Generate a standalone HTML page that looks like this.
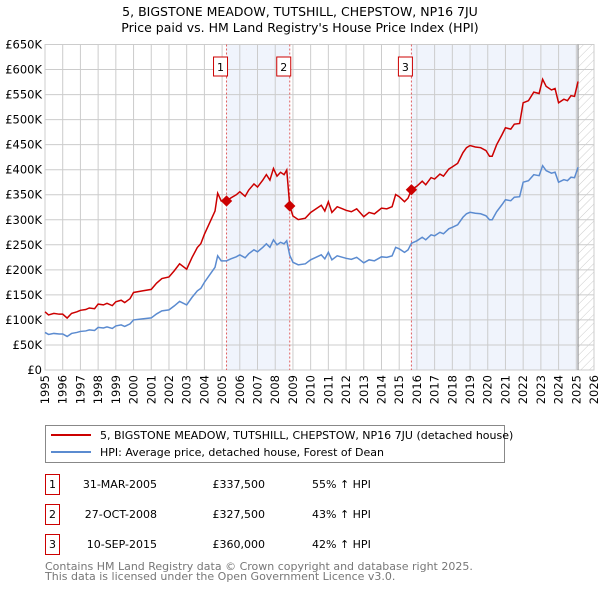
<!DOCTYPE html>
<html><head><meta charset="utf-8"><style>
body{margin:0;background:#fff;font-family:"DejaVu Sans","Liberation Sans",sans-serif;}
svg text{font-family:"DejaVu Sans","Liberation Sans",sans-serif;}
</style></head><body>
<svg id="c" width="600" height="590" xmlns="http://www.w3.org/2000/svg">
<defs><pattern id="hatch" patternUnits="userSpaceOnUse" width="6" height="6" patternTransform="rotate(45)"><line x1="0" y1="0" x2="0" y2="6" stroke="#ccc" stroke-width="1"/></pattern></defs>
<text x="300" y="16" text-anchor="middle" font-size="12.5">5, BIGSTONE MEADOW, TUTSHILL, CHEPSTOW, NP16 7JU</text>
<text x="300" y="32" text-anchor="middle" font-size="12.5">Price paid vs. HM Land Registry's House Price Index (HPI)</text>
<g id="plot"></g>
<rect x="45.5" y="425.5" width="459" height="37" fill="#fff" stroke="#888"/>
<line x1="51" y1="435" x2="91" y2="435" stroke="#cc0000" stroke-width="2"/>
<text x="100" y="439" font-size="11">5, BIGSTONE MEADOW, TUTSHILL, CHEPSTOW, NP16 7JU (detached house)</text>
<line x1="51" y1="452" x2="91" y2="452" stroke="#5b8bd0" stroke-width="2"/>
<text x="100" y="456" font-size="11">HPI: Average price, detached house, Forest of Dean</text>
<g id="table" font-size="11"></g>
<text x="45" y="570" font-size="11" fill="#777">Contains HM Land Registry data © Crown copyright and database right 2025.</text>
<text x="45" y="580" font-size="11" fill="#777">This data is licensed under the Open Government Licence v3.0.</text>
</svg>
<script>
const hpiYears=[
1995,1995.2,1995.5,1995.8,1996,1996.25,1996.5,1996.8,1997,1997.3,
1997.5,1997.8,1998,1998.3,1998.5,1998.8,1999,1999.3,1999.5,1999.8,
2000,2000.5,2001,2001.3,2001.6,2002,2002.3,2002.6,2003,2003.3,
2003.6,2003.8,2004,2004.3,2004.6,2004.75,2004.95,2005.25,2005.5,2005.8,
2006,2006.3,2006.5,2006.8,2007,2007.3,2007.5,2007.7,2007.9,2008.1,
2008.3,2008.5,2008.65,2008.82,2009,2009.3,2009.7,2010,2010.3,2010.6,
2010.8,2011,2011.2,2011.5,2011.8,2012,2012.3,2012.6,2013,2013.3,
2013.6,2014,2014.3,2014.6,2014.8,2015,2015.3,2015.5,2015.69,2016,
2016.3,2016.5,2016.8,2017,2017.3,2017.5,2017.8,2018,2018.3,2018.6,
2018.8,2019,2019.3,2019.6,2019.9,2020.1,2020.25,2020.5,2020.8,2021,
2021.3,2021.5,2021.8,2022,2022.3,2022.6,2022.9,2023.1,2023.3,2023.6,
2023.8,2024,2024.3,2024.5,2024.7,2024.9,2025.1];
const hpiValues=[
75,71,73,72,72,67,73,75,77,78,
80,79,85,84,86,83,88,90,87,92,
100,102,104,112,118,120,128,137,130,145,
158,163,175,190,205,228,218,218,222,226,
230,224,232,240,236,245,252,245,260,250,
255,252,258,229,215,210,212,220,225,230,
222,235,220,228,225,223,221,225,214,220,
218,226,225,228,245,242,235,240,253,258,
265,260,270,268,275,272,282,285,290,305,
312,315,313,312,308,300,300,316,330,340,
338,345,346,375,378,390,388,408,398,393,
395,375,380,378,385,384,405];
const saleYears=[2005.25,2008.82,2015.69];
const salePrices=[337500,327500,360000];
const saleLabels=["1","2","3"];
const saleDates=["31-MAR-2005","27-OCT-2008","10-SEP-2015"];
const salePriceText=["£337,500","£327,500","£360,000"];
const salePct=["55% ↑ HPI","43% ↑ HPI","42% ↑ HPI"];
const yTicks=[0,50,100,150,200,250,300,350,400,450,500,550,600,650];
const xTicks=[1995,1996,1997,1998,1999,2000,2001,2002,2003,2004,2005,2006,2007,2008,2009,2010,2011,2012,2013,2014,2015,2016,2017,2018,2019,2020,2021,2022,2023,2024,2025,2026];
const X0=45,X1=594,Y0=370,Y1=44.5;
const xs=y=>X0+(y-1995)/31*(X1-X0);
const ys=v=>Y0-v/650*(Y0-Y1);
const NS="http://www.w3.org/2000/svg";
const g=document.getElementById('plot');
function mk(t,a,p){const e=document.createElementNS(NS,t);for(const k in a)e.setAttribute(k,a[k]);(p||g).appendChild(e);return e;}
function hpiAt(y){for(let i=1;i<hpiYears.length;i++){if(y<=hpiYears[i]){const f=(y-hpiYears[i-1])/(hpiYears[i]-hpiYears[i-1]);return hpiValues[i-1]+f*(hpiValues[i]-hpiValues[i-1]);}}return hpiValues[hpiValues.length-1];}
let r=mk('rect',{x:xs(saleYears[0]),y:Y1,width:xs(saleYears[1])-xs(saleYears[0]),height:Y0-Y1,fill:'#f0f4fc'});

r=mk('rect',{x:xs(saleYears[2]),y:Y1,width:xs(2025.1)-xs(saleYears[2]),height:Y0-Y1,fill:'#f0f4fc'});

r=mk('rect',{x:xs(2025.1),y:Y1,width:X1-xs(2025.1),height:Y0-Y1,fill:'url(#hatch)'});

yTicks.forEach(v=>{const l=mk('line',{x1:X0,x2:X1,y1:ys(v),y2:ys(v),stroke:'#ccc'});

const t=mk('text',{x:X0-3,y:ys(v)+4,'text-anchor':'end','font-size':'11.5'});t.textContent=v===0?'£0':'£'+v+'K';
});
xTicks.forEach(y=>{const l=mk('line',{x1:xs(y),x2:xs(y),y1:Y1,y2:Y0,stroke:'#ccc'});

const t=mk('text',{x:0,y:0,'text-anchor':'end','font-size':'11.5',transform:`translate(${xs(y)+4},${Y0+5}) rotate(-90)`});t.textContent=y;
});
let b=mk('rect',{x:X0,y:Y1,width:X1-X0,height:Y0-Y1,fill:'none',stroke:'#ccc'});

let vl=mk('line',{x1:xs(2025.1),x2:xs(2025.1),y1:Y1,y2:Y0,stroke:'#888'});

saleYears.forEach((s,i)=>{const l=mk('line',{x1:xs(s),x2:xs(s),y1:Y1,y2:Y0,stroke:'#e06060','stroke-dasharray':'2,2'});

const bx=mk('rect',{x:xs(s)-13,y:57,width:14,height:19,fill:'#fff',stroke:'#cc0000'});

const t=mk('text',{x:xs(s)-6,y:71,'text-anchor':'middle','font-size':'11'});t.textContent=saleLabels[i];
});
const hp=mk('polyline',{points:hpiYears.map((y,i)=>xs(y)+','+ys(hpiValues[i])).join(' '),fill:'none',stroke:'#5b8bd0','stroke-width':1.5});

const ratios=saleYears.map((s,i)=>salePrices[i]/1000/hpiAt(s));
function ratioAt(y){let k=0;for(let i=0;i<saleYears.length;i++)if(y>=saleYears[i])k=i;return ratios[k];}
const pts=[];
hpiYears.forEach((y,i)=>{saleYears.forEach((s,j)=>{if(i>0&&hpiYears[i-1]<s&&y>s){const h=hpiAt(s);pts.push([s,h*(j>0?ratios[j-1]:ratios[0])]);pts.push([s,salePrices[j]/1000]);}});pts.push([y,hpiValues[i]*ratioAt(y)]);});
const pl=mk('polyline',{points:pts.map(p=>xs(p[0])+','+ys(p[1])).join(' '),fill:'none',stroke:'#cc0000','stroke-width':1.5});

saleYears.forEach((s,i)=>{const d=mk('rect',{x:xs(s)-4,y:ys(salePrices[i]/1000)-4,width:8,height:8,fill:'#cc0000',transform:`rotate(45 ${xs(s)} ${ys(salePrices[i]/1000)})`});
});
const tb=document.getElementById('table');
saleDates.forEach((d,i)=>{const y=483+i*30;
const bx=mk('rect',{x:45.5,y:y-8.5,width:14,height:20,fill:'#fff',stroke:'#cc0000'},tb);

const a=mk('text',{x:52.5,y:y+5,'text-anchor':'middle'},tb);a.textContent=saleLabels[i];

const b=mk('text',{x:157,y:y+5,'text-anchor':'end'},tb);b.textContent=d;

const c=mk('text',{x:265,y:y+5,'text-anchor':'end'},tb);c.textContent=salePriceText[i];

const e=mk('text',{x:312,y:y+5},tb);e.textContent=salePct[i];
});
</script>
</body></html>
